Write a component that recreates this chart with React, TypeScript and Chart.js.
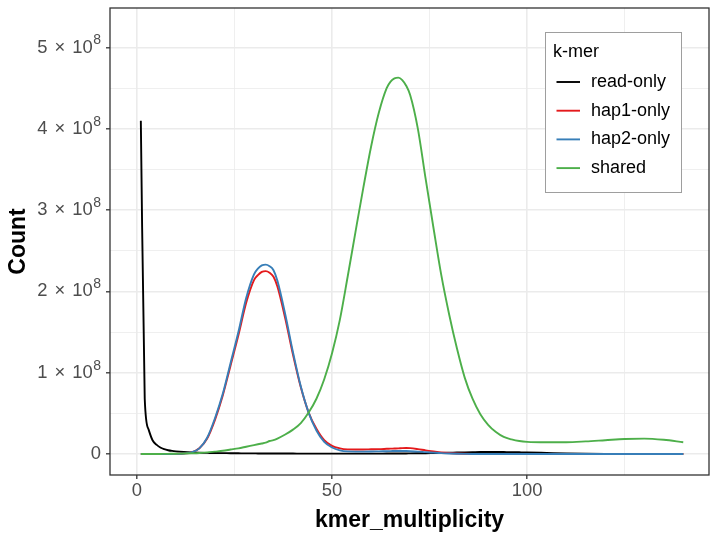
import { useEffect, useRef } from "react";
import { Chart, registerables } from "chart.js";

Chart.register(...registerables);

// ---------- data (counts in units of 10^8) ----------
const kmerMultiplicity = [
  1, 2, 3, 4, 5, 6, 7, 8, 9, 10,
  12, 14, 16, 18, 20, 22, 24, 26, 28, 30,
  31, 32, 33, 34, 35, 36, 38, 40, 42, 44,
  46, 48, 50, 52, 54, 56, 58, 60, 62, 64,
  65, 66, 67, 68, 69, 70, 72, 74, 76, 78,
  80, 82, 84, 86, 88, 90, 92, 94, 96, 98,
  100, 105, 110, 115, 120, 125, 130, 135, 140,
];

const readOnly = [
  4.1, 0.68, 0.3, 0.17, 0.115, 0.08, 0.06, 0.047, 0.038, 0.032,
  0.024, 0.019, 0.016, 0.014, 0.012, 0.011, 0.01, 0.009, 0.008, 0.008,
  0.007, 0.007, 0.007, 0.007, 0.007, 0.006, 0.006, 0.006, 0.005, 0.005,
  0.005, 0.005, 0.005, 0.005, 0.005, 0.005, 0.005, 0.005, 0.005, 0.006,
  0.006, 0.006, 0.007, 0.007, 0.007, 0.008, 0.009, 0.01, 0.012, 0.014,
  0.016, 0.018, 0.02, 0.022, 0.024, 0.025, 0.025, 0.024, 0.023, 0.021,
  0.019, 0.013, 0.007, 0.003, 0.001, 0.0005, 0.0002, 0.0001, 0,
];

const hap1Only = [
  0, 0, 0, 0, 0, 0, 0, 0, 0.001, 0.002,
  0.006, 0.02, 0.07, 0.19, 0.42, 0.72, 1.09, 1.46, 1.86, 2.14,
  2.2, 2.24, 2.25, 2.23, 2.18, 2.06, 1.67, 1.22, 0.82, 0.51,
  0.31, 0.17, 0.1, 0.07, 0.057, 0.055, 0.056, 0.058, 0.06, 0.064,
  0.066, 0.068, 0.07, 0.073, 0.074, 0.072, 0.06, 0.045, 0.032, 0.02,
  0.012, 0.007, 0.004, 0.002, 0.001, 0.001, 0, 0, 0, 0,
  0, 0, 0, 0, 0, 0, 0, 0, 0,
];

const hap2Only = [
  0, 0, 0, 0, 0, 0, 0, 0, 0.001, 0.002,
  0.006, 0.02, 0.07, 0.2, 0.44, 0.74, 1.12, 1.5, 1.92, 2.21,
  2.28, 2.32, 2.33, 2.31, 2.26, 2.13, 1.72, 1.25, 0.83, 0.51,
  0.29, 0.15, 0.08, 0.045, 0.032, 0.03, 0.03, 0.031, 0.033, 0.035,
  0.036, 0.037, 0.038, 0.038, 0.037, 0.035, 0.03, 0.023, 0.017, 0.011,
  0.007, 0.004, 0.002, 0.001, 0.001, 0, 0, 0, 0, 0,
  0, 0, 0, 0, 0, 0, 0, 0, 0,
];

const shared = [
  0, 0, 0, 0, 0.001, 0.001, 0.002, 0.002, 0.003, 0.004,
  0.006, 0.009, 0.013, 0.02, 0.03, 0.04, 0.055, 0.07, 0.09, 0.11,
  0.12, 0.13, 0.14, 0.16, 0.17, 0.19, 0.24, 0.3, 0.38, 0.51,
  0.68, 0.92, 1.24, 1.65, 2.18, 2.73, 3.27, 3.78, 4.2, 4.5,
  4.58, 4.62, 4.63, 4.6, 4.53, 4.42, 4.0, 3.38, 2.78, 2.2,
  1.72, 1.3, 0.94, 0.68, 0.49, 0.36, 0.27, 0.21, 0.18, 0.16,
  0.15, 0.145, 0.145, 0.155, 0.17, 0.185, 0.19, 0.175, 0.145,
];

const seriesLabels = ["read-only", "hap1-only", "hap2-only", "shared"];
const seriesValues = [readOnly, hap1Only, hap2Only, shared];
const seriesColors = ["#000000", "#E41A1C", "#377EB8", "#4DAF4A"];

const xTickValues = [0, 25, 50, 75, 100, 125];
const xMajorTicks = [0, 50, 100];
const yTickValues = [0, 0.5, 1, 1.5, 2, 2.5, 3, 3.5, 4, 4.5, 5];
const yMajorTicks = [0, 1, 2, 3, 4, 5];
const yExponent = "8";

const legendTitle = "k-mer";
const xTitle = "kmer_multiplicity";
const yTitle = "Count";

const FONT = "'Liberation Sans', Arial, Helvetica, sans-serif";

const isMajor = (list: number[], v: number | undefined) =>
  v !== undefined && list.some((m) => Math.abs(m - v) < 1e-9);

const panelPlugin = {
  id: "panelAndLegend",
  afterDatasetsDraw(chart: any) {
    const { ctx, chartArea: a } = chart;
    ctx.save();
    // panel border
    ctx.strokeStyle = "#333333";
    ctx.lineWidth = 1.3;
    ctx.strokeRect(a.left, a.top, a.right - a.left, a.bottom - a.top);

    // legend
    const bx = a.right - 164;
    const by = a.top + 24;
    const bw = 136;
    const bh = 160;
    ctx.fillStyle = "#ffffff";
    ctx.fillRect(bx, by, bw, bh);
    ctx.strokeStyle = "#9E9E9E";
    ctx.lineWidth = 1;
    ctx.strokeRect(bx + 0.5, by + 0.5, bw, bh);

    ctx.fillStyle = "#000000";
    ctx.font = `18px ${FONT}`;
    ctx.textAlign = "left";
    ctx.textBaseline = "alphabetic";
    ctx.fillText(legendTitle, bx + 8, by + 25);

    const ds = chart.data.datasets;
    ctx.textBaseline = "middle";
    for (let i = 0; i < ds.length; i++) {
      const y = by + 50 + i * 28.7;
      ctx.strokeStyle = ds[i].borderColor;
      ctx.lineWidth = 1.9;
      ctx.beginPath();
      ctx.moveTo(bx + 11.5, y);
      ctx.lineTo(bx + 35, y);
      ctx.stroke();
      ctx.fillStyle = "#000000";
      ctx.fillText(ds[i].label, bx + 46, y);
    }

    // y tick labels: "n × 10^8" with superscript exponent
    const ys = chart.scales.y;
    const right = a.left - 9;
    const gap = 7;
    ctx.fillStyle = "#4D4D4D";
    ctx.textBaseline = "middle";
    ctx.textAlign = "left";
    for (const v of yMajorTicks) {
      const py = ys.getPixelForValue(v);
      ctx.font = `18.4px ${FONT}`;
      if (v === 0) {
        ctx.textAlign = "right";
        ctx.fillText("0", right, py);
        ctx.textAlign = "left";
        continue;
      }
      const parts = [String(v), "\u00D7", "10"];
      const widths = parts.map((p) => ctx.measureText(p).width);
      ctx.font = `14px ${FONT}`;
      const supW = ctx.measureText(yExponent).width;
      const total = widths[0] + gap + widths[1] + gap + widths[2] + 0.5 + supW;
      let x = right - total;
      ctx.font = `18.4px ${FONT}`;
      ctx.fillText(parts[0], x, py);
      x += widths[0] + gap;
      ctx.fillText(parts[1], x, py);
      x += widths[1] + gap;
      ctx.fillText(parts[2], x, py);
      x += widths[2] + 0.5;
      ctx.font = `14px ${FONT}`;
      ctx.fillText(yExponent, x, py - 7);
    }
    ctx.restore();
  },
};

export default function App() {
  const ref = useRef<HTMLCanvasElement>(null);

  useEffect(() => {
    const datasets = seriesLabels.map((label, s) => ({
      label,
      data: kmerMultiplicity.map((x, i) => ({ x, y: seriesValues[s][i] })),
      borderColor: seriesColors[s],
      backgroundColor: seriesColors[s],
      borderWidth: 1.9,
      pointRadius: 0,
      pointHoverRadius: 0,
      fill: false,
      cubicInterpolationMode: "monotone" as const,
      order: seriesLabels.length - s,
    }));

    const grid = (major: number[]) => ({
      color: "#EBEBEB",
      lineWidth: (c: any) => (isMajor(major, c.tick?.value) ? 1.6 : 0.8),
      drawTicks: true,
      tickLength: 4,
      tickWidth: 1.3,
      tickColor: (c: any) =>
        isMajor(major, c.tick?.value) ? "#333333" : "rgba(0,0,0,0)",
    });

    const chart = new Chart(ref.current as HTMLCanvasElement, {
      type: "line",
      data: { datasets },
      plugins: [panelPlugin],
      options: {
        animation: false,
        responsive: false,
        devicePixelRatio: 1,
        layout: { padding: { left: 0, top: 8, right: 10, bottom: 0 } },
        plugins: {
          legend: { display: false },
          tooltip: { enabled: false },
        },
        scales: {
          x: {
            type: "linear",
            min: -6.9,
            max: 146.6,
            afterBuildTicks: (scale: any) => {
              scale.ticks = xTickValues.map((v) => ({ value: v }));
            },
            afterFit: (scale: any) => {
              scale.height = 64;
              scale.paddingLeft = 0;
              scale.paddingRight = 0;
            },
            grid: grid(xMajorTicks),
            border: { display: false },
            ticks: {
              autoSkip: false,
              maxRotation: 0,
              padding: 1,
              color: "#4D4D4D",
              font: { family: FONT, size: 18.4 },
              callback: (v: any) => (isMajor(xMajorTicks, Number(v)) ? String(v) : ""),
            },
            title: {
              display: true,
              text: xTitle,
              color: "#000000",
              font: { family: FONT, size: 23, weight: "bold" },
              padding: { top: 0, bottom: 5 },
            },
          },
          y: {
            type: "linear",
            min: -0.258,
            max: 5.486,
            afterBuildTicks: (scale: any) => {
              scale.ticks = yTickValues.map((v) => ({ value: v }));
            },
            afterFit: (scale: any) => {
              scale.width = 110;
              scale.paddingTop = 0;
              scale.paddingBottom = 0;
            },
            grid: grid(yMajorTicks),
            border: { display: false },
            ticks: {
              autoSkip: false,
              padding: 5,
              color: "#4D4D4D",
              font: { family: FONT, size: 18.4 },
              callback: () => "",
            },
            title: {
              display: true,
              text: yTitle,
              color: "#000000",
              font: { family: FONT, size: 23, weight: "bold" },
              padding: { top: 5, bottom: 0 },
            },
          },
        },
      },
    } as any);

    return () => chart.destroy();
  }, []);

  return (
    <div
      style={{
        position: "fixed",
        left: 0,
        top: 0,
        width: 719,
        height: 539,
        background: "#ffffff",
      }}
    >
      <canvas ref={ref} width={719} height={539} style={{ display: "block", width: 719, height: 539 }} />
    </div>
  );
}
